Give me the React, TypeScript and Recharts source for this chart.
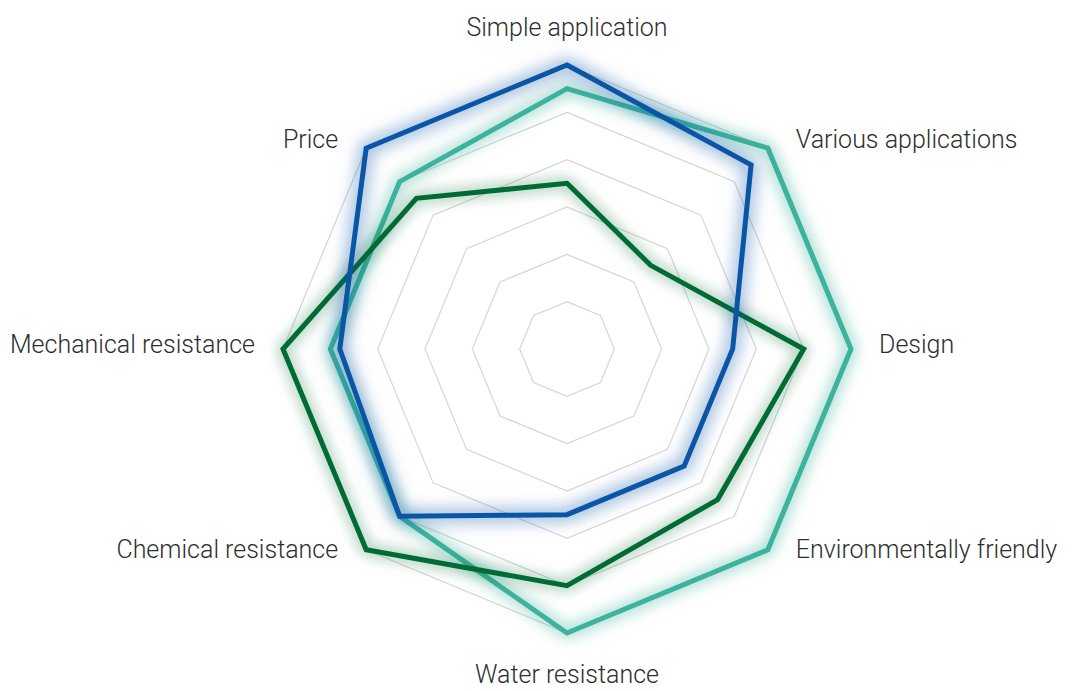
import { RadarChart, PolarGrid, PolarAngleAxis, PolarRadiusAxis, Radar } from 'recharts';

const categories = [
    'Simple application',
    'Various applications',
    'Design',
    'Environmentally friendly',
    'Water resistance',
    'Chemical resistance',
    'Mechanical resistance',
    'Price',
];

const blueValues = [6, 5.5, 3.5, 3.5, 3.5, 5, 4.8, 6];
const tealValues = [5.5, 6, 6, 6, 6, 5, 5, 5];
const greenValues = [3.5, 2.5, 5, 4.5, 5, 6, 6, 4.5];

const data = categories.map((name, i) => ({
    name,
    blue: blueValues[i],
    teal: tealValues[i],
    green: greenValues[i],
}));

const CX = 567;
const CY = 349;
const R = 284;

const AngleTick = (props: any) => {
    const dx = props.x - CX;
    const dy = props.y - CY;
    const len = Math.sqrt(dx * dx + dy * dy) || 1;
    const cos = dx / len;
    const sin = -dy / len;
    const vx = CX + R * cos;
    const vy = CY - R * sin;
    let anchor = 'middle';
    let x = vx;
    let y = vy;
    if (Math.abs(cos) < 0.01) {
        y = sin > 0 ? vy - 29 : vy + 50;
    } else {
        anchor = cos > 0 ? 'start' : 'end';
        x = vx + (cos > 0 ? 28 : -28);
        y = vy + 4 - 6 * sin;
    }
    return (
        <text x={x} y={y} textAnchor={anchor} fill='#2e2e2e' fontSize={25} fontWeight={300}
            fontFamily='Roboto, sans-serif'>
            {props.payload.value}
        </text>
    );
};

export default function App() {
    return (
        <div style={{ position: 'absolute', left: 0, top: 0, width: 1080, height: 691, background: '#fff' }}>
            <style>{`
                .glow-teal { filter: drop-shadow(0 0 7px rgba(61,179,158,0.5)); }
                .glow-green { filter: drop-shadow(0 0 7px rgba(0,107,53,0.35)); }
                .glow-blue { filter: drop-shadow(0 0 8px rgba(10,85,165,0.5)); }
            `}</style>
            <RadarChart width={1080} height={691} cx={CX} cy={CY} outerRadius={R} data={data}
                margin={{ top: 0, right: 0, bottom: 0, left: 0 }}>
                <PolarGrid gridType='polygon' radialLines={false} stroke='#d6d6d6' strokeWidth={1.2} />
                <PolarAngleAxis dataKey='name' tick={AngleTick} tickLine={false} axisLine={false} />
                <PolarRadiusAxis domain={[0, 6]} tickCount={7} tick={false} axisLine={false} />
                <Radar className='glow-teal' dataKey='teal' stroke='#3db39e' strokeWidth={5} fill='none'
                    fillOpacity={0} isAnimationActive={false} />
                <Radar className='glow-green' dataKey='green' stroke='#006b35' strokeWidth={5} fill='none'
                    fillOpacity={0} isAnimationActive={false} />
                <Radar className='glow-blue' dataKey='blue' stroke='#0a55a5' strokeWidth={5} fill='none'
                    fillOpacity={0} isAnimationActive={false} />
            </RadarChart>
        </div>
    );
}
